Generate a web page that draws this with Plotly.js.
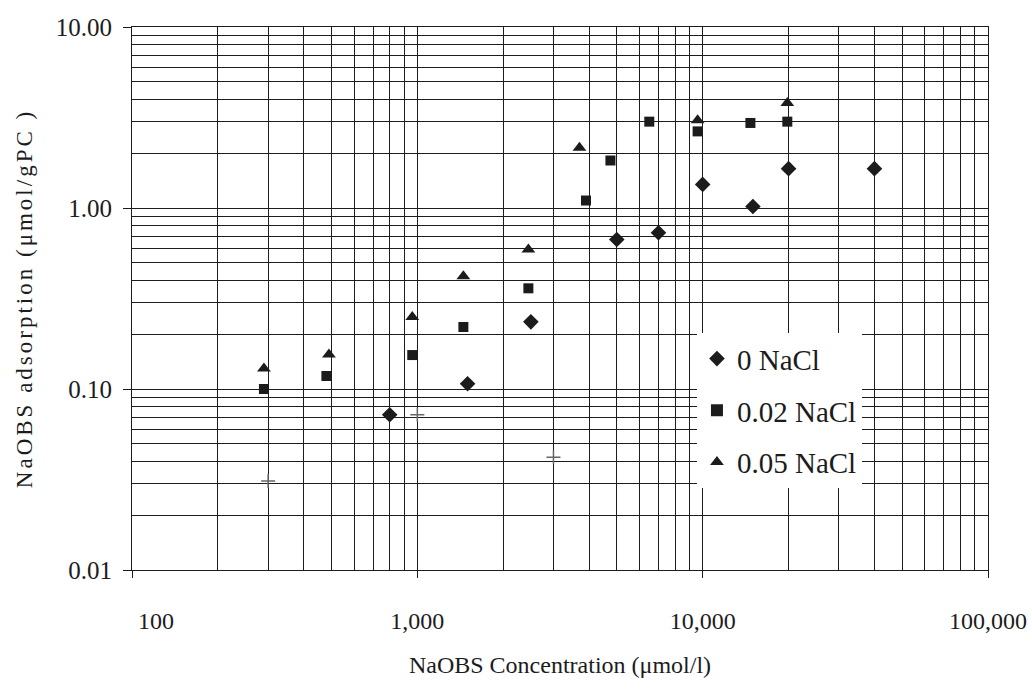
<!DOCTYPE html>
<html>
<head>
<meta charset="utf-8">
<script src="https://cdn.plot.ly/plotly-3.0.1.min.js"></script>
<style>
  html, body { margin: 0; padding: 0; background: #fff; }
  #chart { width: 1032px; height: 694px; }
  .ytitle { letter-spacing: 3px; }
</style>
</head>
<body>
<div id="chart"></div>
<script>
// NaOBS concentration (µmol/l) and adsorption (µmol/gPC)
const seriesNames = ["0 NaCl", "0.02 NaCl", "0.05 NaCl"];

const x0 = [800, 1500, 2500, 5000, 7000, 10000, 15000, 20000, 40000];
const y0 = [0.072, 0.107, 0.235, 0.67, 0.73, 1.35, 1.02, 1.65, 1.65];

const x02 = [290, 480, 960, 1450, 2450, 3900, 4750, 6500, 9600, 14700, 19800];
const y02 = [0.10, 0.118, 0.154, 0.22, 0.36, 1.1, 1.83, 3.0, 2.65, 2.95, 3.0];

const x05 = [290, 490, 960, 1450, 2450, 3700, 9600, 19800];
const y05 = [0.13, 0.155, 0.25, 0.42, 0.59, 2.15, 3.05, 3.8];

// faint (washed-out) points of the 0 NaCl series
const xFaint = [300, 1000, 3000];
const yFaint = [0.031, 0.072, 0.042];

const xTickVals = [100, 1000, 10000, 100000];
const xTickText = ["\u00a0\u00a0\u00a0\u00a0\u00a0\u00a0\u00a0\u00a0100", "1,000", "10,000", "100,000"];
const yTickVals = [0.01, 0.1, 1, 10];
const yTickText = ["0.01", "0.10", "1.00", "10.00"];

const serif = "Liberation Serif, Times New Roman, serif";
const ink = "#1c1c1c";

const traces = [
  { x: x0, y: y0, name: seriesNames[0], mode: "markers", type: "scatter", legendgroup: "a",
    marker: { symbol: "diamond", size: 12, color: ink } },
  { x: x02, y: y02, name: seriesNames[1], mode: "markers", type: "scatter", legendgroup: "b",
    marker: { symbol: "square", size: 10, color: ink } },
  { x: x05, y: y05, name: seriesNames[2], mode: "markers", type: "scatter", legendgroup: "c",
    marker: { symbol: "triangle-up", size: 12, color: ink } },
  { x: xFaint, y: yFaint, name: "faint", mode: "markers", type: "scatter", showlegend: false,
    marker: { symbol: "cross-thin", size: 10, color: "#666", line: { color: "#666", width: 1.5 } } }
];

const layout = {
  width: 1032, height: 694,
  margin: { l: 132, r: 44, t: 27, b: 124 },
  paper_bgcolor: "#fff", plot_bgcolor: "#fff",
  font: { family: serif, color: ink, size: 22 },
  showlegend: true,
  legend: {
    x: 0.66, y: 0.436, xanchor: "left", yanchor: "top",
    bgcolor: "#fff", borderwidth: 0,
    font: { family: serif, size: 29, color: ink },
    traceorder: "grouped", tracegroupgap: 11,
    itemsizing: "constant"
  },
  xaxis: {
    type: "log", range: [2, 5],
    tickvals: xTickVals, ticktext: xTickText,
    ticks: "outside", ticklen: 7, tickcolor: ink,
    ticklabelstandoff: 22,
    showline: true, linecolor: ink, linewidth: 1, mirror: true,
    showgrid: true, gridcolor: ink, gridwidth: 1,
    minor: { dtick: "D1", showgrid: true, gridcolor: ink, gridwidth: 1, ticks: "" },
    zeroline: false,
    tickfont: { family: serif, size: 24, color: ink },
    title: { text: "NaOBS Concentration (μmol/l)", standoff: 23,
             font: { family: serif, size: 24, color: ink } }
  },
  yaxis: {
    type: "log", range: [-2, 1],
    tickvals: yTickVals, ticktext: yTickText,
    ticks: "outside", ticklen: 8, tickcolor: ink,
    ticklabelstandoff: 6,
    showline: true, linecolor: ink, linewidth: 1, mirror: true,
    showgrid: true, gridcolor: ink, gridwidth: 1,
    minor: { dtick: "D1", showgrid: true, gridcolor: ink, gridwidth: 1, ticks: "" },
    zeroline: false,
    tickfont: { family: serif, size: 25, color: ink },
    title: { text: "NaOBS adsorption (μmol/gPC )", standoff: 16,
             font: { family: serif, size: 23, color: ink } }
  }
};

Plotly.newPlot("chart", traces, layout, { staticPlot: true, displayModeBar: false });
</script>
</body>
</html>
